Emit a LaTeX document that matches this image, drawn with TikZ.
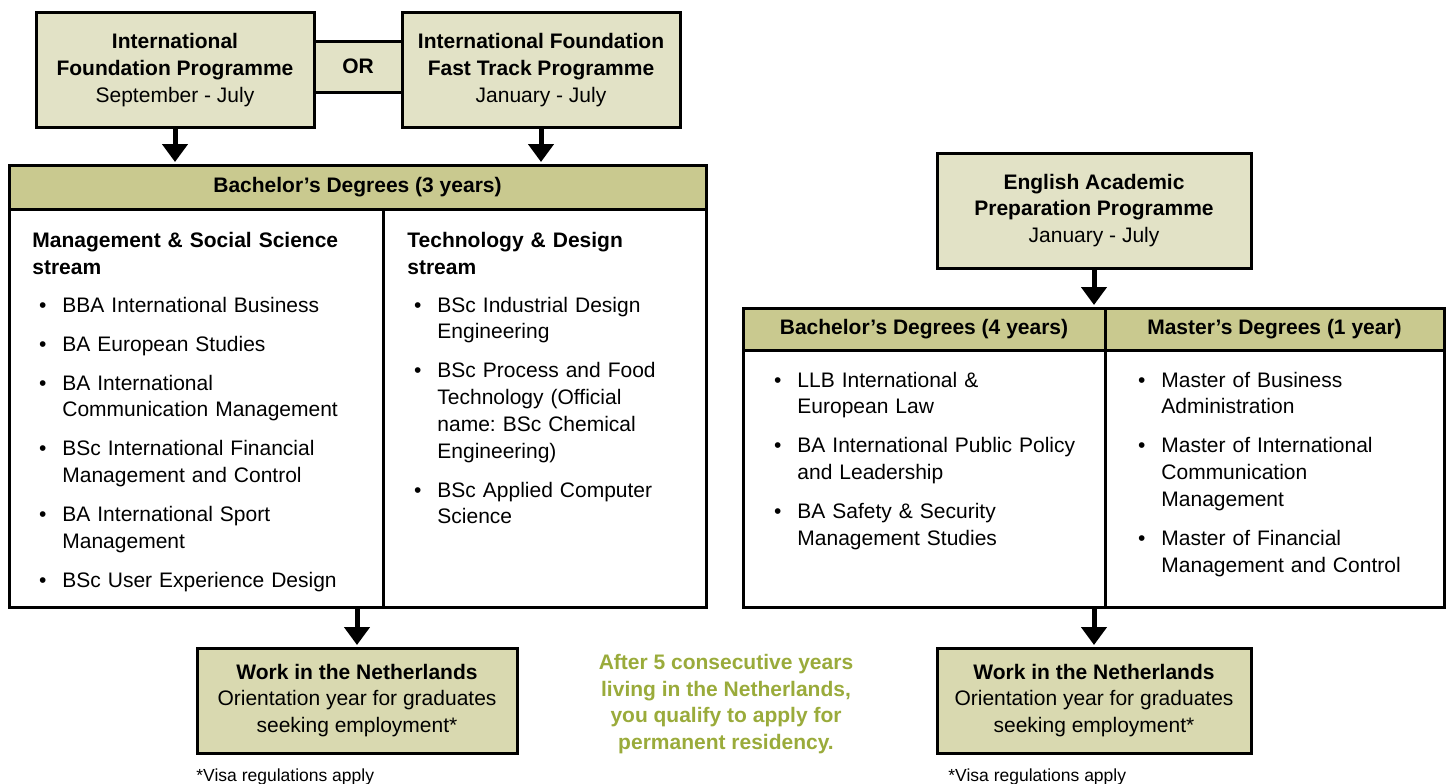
\documentclass[tikz,border=0pt]{standalone}
\usepackage{fontspec}
\setmainfont{Liberation Sans}
\usetikzlibrary{arrows.meta,positioning,calc}
\frenchspacing

\definecolor{lightolive}{HTML}{E2E2C6}
\definecolor{headolive}{HTML}{C9C98F}
\definecolor{workolive}{HTML}{D9D9B0}
\definecolor{notegreen}{HTML}{9AAB3B}

\newenvironment{courselist}{%
  \begin{list}{\textbullet}{\setlength{\leftmargin}{15pt}\setlength{\labelwidth}{5pt}%
    \setlength{\labelsep}{8pt}\setlength{\itemsep}{6.15pt}\setlength{\parsep}{0pt}%
    \setlength{\topsep}{0pt}\setlength{\partopsep}{0pt}}}
  {\end{list}}

\begin{document}
\begin{tikzpicture}[x=0.5pt, y=-0.5pt,
    every node/.style={font=\fontsize{10.5}{13.35}\selectfont},
    progbox/.style={draw, line width=1.5pt, outer sep=0pt, inner sep=0pt, fill=lightolive, align=center},
    headbox/.style={draw, line width=1.5pt, outer sep=0pt, inner sep=0pt, fill=headolive, font=\fontsize{10.5}{13.35}\selectfont\bfseries},
    bodybox/.style={draw, line width=1.5pt, outer sep=0pt, inner sep=0pt, fill=white},
    workbox/.style={draw, line width=1.5pt, outer sep=0pt, inner sep=0pt, fill=workolive, align=center},
    listtext/.style={anchor=base west, inner sep=0pt, text width=180pt, align=left},
    flow/.style={-{Triangle[width=12.5pt,length=9pt]}, line width=2.5pt, shorten >=1.5pt}]
    \useasboundingbox (0,0) rectangle (1449,783);

    % foundation programmes
    \node (orbox) [progbox, minimum width=44pt, minimum height=25.5pt] at (358,66.5) {\textbf{OR}};
    \node (ifp) [progbox, minimum width=139pt, minimum height=57.5pt] at (175,70)
        {\textbf{International}\\\textbf{Foundation Programme}\\September - July};
    \node (ifft) [progbox, minimum width=139pt, minimum height=57.5pt] at (541,70)
        {\textbf{International Foundation}\\\textbf{Fast Track Programme}\\January - July};

    % bachelor 3 years
    \node (b3head) [headbox, minimum width=348.5pt, minimum height=22pt] at (357.5,187) {Bachelor’s Degrees (3 years)};
    \node (b3left) [bodybox, minimum width=187pt, minimum height=199pt] at (196,408) {};
    \node (b3right) [bodybox, minimum width=161.5pt, minimum height=199pt, right=0pt of b3left] {};

    \node (msslist) [listtext] at (32,247.5) {\textbf{Management \& Social Science\\stream}\par\vspace{5.65pt}
        \begin{courselist}
        \item BBA International Business
        \item BA European Studies
        \item BA International\\Communication Management
        \item BSc International Financial\\Management and Control
        \item BA International Sport\\Management
        \item BSc User Experience Design
        \end{courselist}};
    \node (tdlist) [listtext] at (407,247.5) {\textbf{Technology \& Design\\stream}\par\vspace{5.65pt}
        \begin{courselist}
        \item BSc Industrial Design\\Engineering
        \item BSc Process and Food\\Technology (Official\\name: BSc Chemical\\Engineering)
        \item BSc Applied Computer\\Science
        \end{courselist}};

    \node (work1) [workbox, minimum width=160pt, minimum height=52.5pt] at (357,700.5)
        {\textbf{Work in the Netherlands}\\Orientation year for graduates\\seeking employment*};
    \node (foot1) [anchor=base west, inner sep=0pt, font=\fontsize{8.75}{10}\selectfont] at (196,781) {*Visa regulations apply};

    \node (note) [align=center, text=notegreen, font=\fontsize{10.5}{13.35}\selectfont\bfseries] at (726,704)
        {After 5 consecutive years\\living in the Netherlands,\\you qualify to apply for\\permanent residency.};

    % english academic preparation
    \node (eapp) [progbox, minimum width=157pt, minimum height=57.5pt] at (1094,210.5)
        {\textbf{English Academic}\\\textbf{Preparation Programme}\\January - July};

    \node (b4head) [headbox, minimum width=181pt, minimum height=21pt] at (924,329) {Bachelor’s Degrees (4 years)};
    \node (mhead) [headbox, minimum width=169.5pt, minimum height=21pt, right=0pt of b4head] {Master’s Degrees (1 year)};
    \node (b4body) [bodybox, minimum width=181pt, minimum height=128.5pt] at (924,478.5) {};
    \node (mbody) [bodybox, minimum width=169.5pt, minimum height=128.5pt, right=0pt of b4body] {};

    \node (b4list) [listtext] at (767,360.5) {%
        \begin{courselist}
        \item LLB International \&\\European Law
        \item BA International Public Policy\\and Leadership
        \item BA Safety \& Security\\Management Studies
        \end{courselist}};
    \node (mlist) [listtext] at (1131,360.5) {%
        \begin{courselist}
        \item Master of Business\\Administration
        \item Master of International\\Communication\\Management
        \item Master of Financial\\Management and Control
        \end{courselist}};

    \node (work2) [workbox, minimum width=157pt, minimum height=52.5pt] at (1094,700.5)
        {\textbf{Work in the Netherlands}\\Orientation year for graduates\\seeking employment*};
    \node (foot2) [anchor=base west, inner sep=0pt, font=\fontsize{8.75}{10}\selectfont] at (948,781) {*Visa regulations apply};

    % arrows
    \draw [flow] (ifp) -- (ifp |- b3head.north);
    \draw [flow] (ifft) -- (ifft |- b3head.north);
    \draw [flow] (work1 |- b3left.south) -- (work1);
    \draw [flow] (eapp) -- (eapp |- b4head.north);
    \draw [flow] (work2 |- b4body.south) -- (work2);
\end{tikzpicture}
\end{document}
